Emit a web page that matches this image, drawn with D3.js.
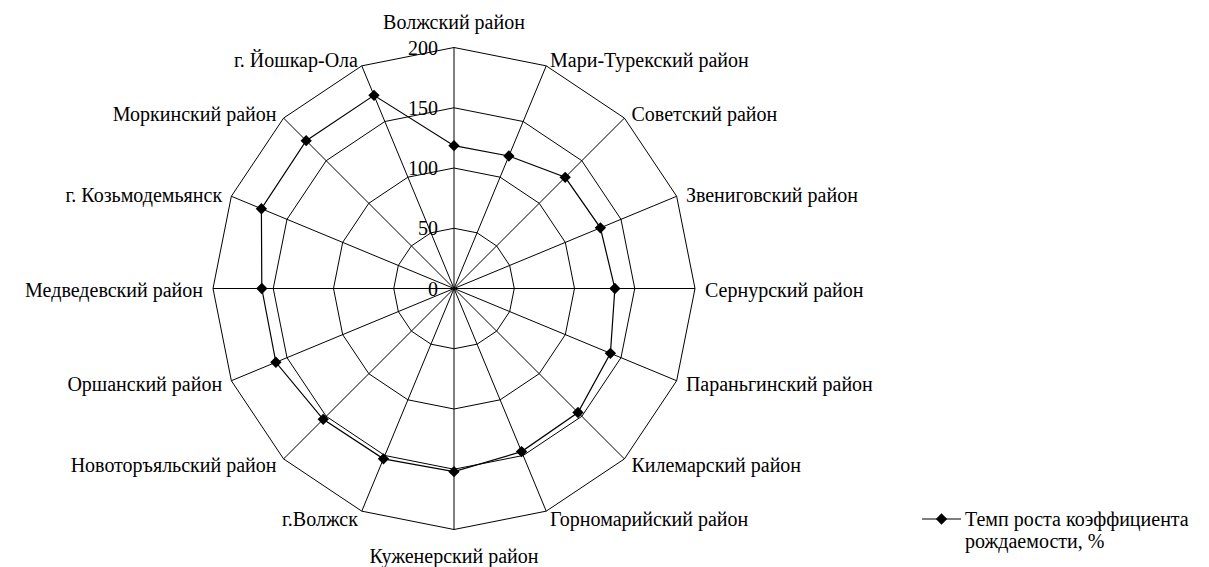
<!DOCTYPE html>
<html>
<head>
<meta charset="utf-8">
<script src="https://d3js.org/d3.v7.min.js"></script>
</head>
<body style="margin:0">
<script>
var width = 1209,
    height = 567,
    cx = 454,
    cy = 288.5,
    radius = 241,
    fontSize = 20;

// categories, clockwise from the top
var districts = [
  "Волжский район", "Мари-Турекский район", "Советский район", "Звениговский район",
  "Сернурский район", "Параньгинский район", "Килемарский район", "Горномарийский район",
  "Куженерский район", "г.Волжск", "Новоторъяльский район", "Оршанский район",
  "Медведевский район", "г. Козьмодемьянск", "Моркинский район", "г. Йошкар-Ола"
];

// Темп роста коэффициента рождаемости, %
var birthRate = [118.5, 119, 130.5, 131.5, 133.5, 140.5, 145.5, 146.5,
                 152, 153, 153.5, 160, 159.5, 173, 173.5, 173.5];

var ticks = [0, 50, 100, 150, 200];
var seriesName = ["Темп роста коэффициента", "рождаемости, %"];

var svg = d3.select("body").append("svg")
    .attr("width", width)
    .attr("height", height);

var r = d3.scaleLinear().domain([0, 200]).range([0, radius]);
var angle = d3.scalePoint().domain(d3.range(districts.length)).range([0, 2 * Math.PI * (districts.length - 1) / districts.length]);

function px(i, v) { return cx + r(v) * Math.sin(angle(i)); }
function py(i, v) { return cy - r(v) * Math.cos(angle(i)); }

// Times-like face wanted
function serifText(sel) {
  sel.attr("font-family", "Liberation Serif")
     .attr("style", "font-family: 'Liberation Serif', 'Times New Roman', serif !important; font-size: " + fontSize + "px !important;");
}

var g = svg.append("g");

// grid polygons
ticks.slice(1).forEach(function(t) {
  g.append("path")
      .attr("d", d3.line()(districts.map(function(d, i) { return [px(i, t), py(i, t)]; })) + "Z")
      .attr("fill", "none")
      .attr("stroke", "#000")
      .attr("stroke-width", 1);
});

// spokes
g.selectAll("line.spoke")
    .data(districts)
    .enter().append("line")
    .attr("class", "spoke")
    .attr("x1", cx).attr("y1", cy)
    .attr("x2", function(d, i) { return px(i, 200); })
    .attr("y2", function(d, i) { return py(i, 200); })
    .attr("stroke", "#000")
    .attr("stroke-width", 1);

// tick labels along the top spoke
g.selectAll("text.tick")
    .data(ticks)
    .enter().append("text")
    .attr("class", "tick")
    .call(serifText)
    .attr("x", cx - 16)
    .attr("y", function(d) { return cy - r(d) + 7; })
    .attr("text-anchor", "end")
    .text(function(d) { return d; });

// category labels
g.selectAll("text.cat")
    .data(districts)
    .enter().append("text")
    .attr("class", "cat")
    .call(serifText)
    .attr("x", function(d, i) {
      var s = Math.sin(angle(i));
      return px(i, 200) + s * 10;
    })
    .attr("y", function(d, i) {
      var c = Math.cos(angle(i));
      if (Math.abs(Math.sin(angle(i))) < 0.01) return py(i, 200) - c * 26 + 7;
      return py(i, 200) - c * 7 + 8;
    })
    .attr("text-anchor", function(d, i) {
      var s = Math.sin(angle(i));
      return Math.abs(s) < 0.01 ? "middle" : (s > 0 ? "start" : "end");
    })
    .text(function(d) { return d; });

// series line
g.append("path")
    .attr("d", d3.line()(birthRate.map(function(v, i) { return [px(i, v), py(i, v)]; })) + "Z")
    .attr("fill", "none")
    .attr("stroke", "#000")
    .attr("stroke-width", 1.2);

var diamond = d3.symbol().type(d3.symbolSquare).size(64);

g.selectAll("path.marker")
    .data(birthRate)
    .enter().append("path")
    .attr("class", "marker")
    .attr("d", diamond)
    .attr("transform", function(v, i) { return "translate(" + px(i, v) + "," + py(i, v) + ") rotate(45)"; })
    .attr("fill", "#000");

// legend
var legend = svg.append("g").attr("transform", "translate(922,519)");
legend.append("line")
    .attr("x1", 0).attr("x2", 39)
    .attr("y1", 0).attr("y2", 0)
    .attr("stroke", "#000")
    .attr("stroke-width", 1.2);
legend.append("path")
    .attr("d", diamond)
    .attr("transform", "translate(19.5,0) rotate(45)")
    .attr("fill", "#000");
legend.selectAll("text")
    .data(seriesName)
    .enter().append("text")
    .call(serifText)
    .attr("x", 43)
    .attr("y", function(d, i) { return i * 22 + 7; })
    .text(function(d) { return d; });
</script>
</body>
</html>
